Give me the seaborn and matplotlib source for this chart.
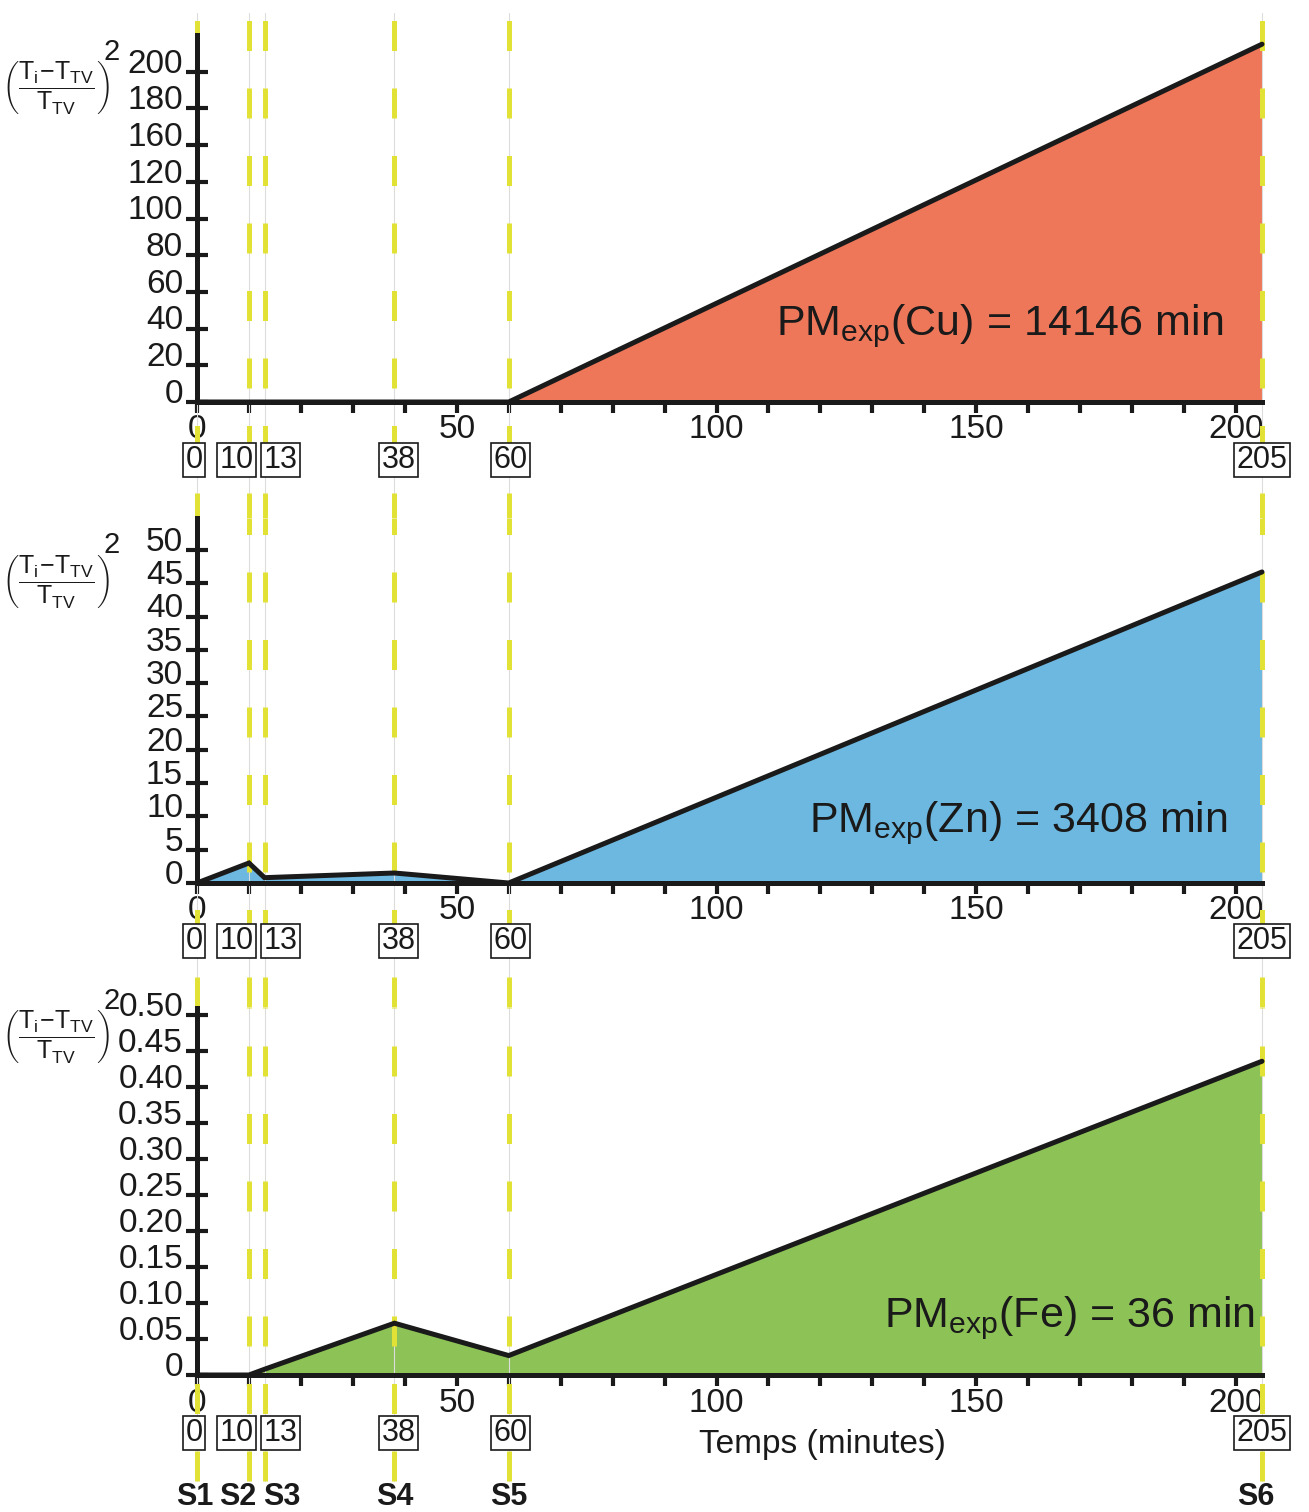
#!/usr/bin/python

import numpy as np
import seaborn as sns
import pandas as pd
import matplotlib
matplotlib.use('Agg')
import matplotlib.pyplot as plt
from matplotlib.ticker import FixedLocator, FixedFormatter, FuncFormatter
from matplotlib.transforms import ScaledTranslation

# Sampling times (minutes) and sample names
sample_times = [0, 10, 13, 38, 60, 205]
sample_names = ['S1', 'S2', 'S3', 'S4', 'S5', 'S6']

# ((Ti - TTV) / TTV)^2
# Cu axis keeps its printed labels (140 is missing) evenly spaced, values are in tick-position units
cu_values = [0, 0, 0, 0, 0, 195]
zn_values = [0, 3.0, 0.8, 1.5, 0, 46.7]
fe_values = [0, 0, 0.008, 0.072, 0.027, 0.436]

cu_ytick_labels = ['0', '20', '40', '60', '80', '100', '120', '160', '180', '200']
zn_ytick_labels = ['0', '5', '10', '15', '20', '25', '30', '35', '40', '45', '50']
fe_ytick_labels = ['0', '0.05', '0.10', '0.15', '0.20', '0.25', '0.30', '0.35', '0.40', '0.45', '0.50']

elements = ['Cu', 'Zn', 'Fe']
pm_minutes = [14146, 3408, 36]

xlabel = 'Temps (minutes)'

FILL_COLORS = ['#ee775a', '#6cb8e0', '#8dc257']
YELLOW = '#e2e236'
INK = '#1a1a1a'
FS = 24


####################################################################################################
# @setup_style
####################################################################################################
def setup_style():

    sns.set_style('white')
    plt.rcParams['font.family'] = ['Liberation Sans', 'DejaVu Sans']
    plt.rcParams['mathtext.fontset'] = 'custom'
    plt.rcParams['mathtext.rm'] = 'Liberation Sans'
    plt.rcParams['mathtext.it'] = 'Liberation Sans'
    plt.rcParams['mathtext.bf'] = 'Liberation Sans:bold'
    plt.rcParams['text.color'] = INK
    plt.rcParams['xtick.color'] = INK
    plt.rcParams['ytick.color'] = INK


####################################################################################################
# @plot_panel
####################################################################################################
def plot_panel(fig, ax, values, color, ytick_labels, ystep, ytop, element, minutes,
               text_xy, ylabel_y, line_span, last=False):

    data = pd.DataFrame({'t': sample_times, 'v': values})

    # Area and outline
    ax.fill_between(data['t'], data['v'], 0, color=color, lw=0, zorder=1)
    sns.lineplot(data=data, x='t', y='v', ax=ax, color=INK, lw=3.6, zorder=4,
                 clip_on=False, solid_joinstyle='miter')

    # Sampling lines (yellow dashes over a thin grey line)
    for t in sample_times:
        ax.axvline(t, ymin=line_span[0], ymax=line_span[1], color='#dcdcdc', lw=0.8,
                   clip_on=False, zorder=2)
        ax.axvline(t, ymin=line_span[0], ymax=line_span[1], color=YELLOW, lw=3.6,
                   ls=(0, (6, 7.5)), clip_on=False, zorder=3)

    ax.set_xlim(0, 205)
    ax.set_ylim(0, ytop)

    # Axes
    for side in ['top', 'right']:
        ax.spines[side].set_visible(False)
    for side in ['left', 'bottom']:
        ax.spines[side].set_linewidth(3.6)
        ax.spines[side].set_color(INK)
        ax.spines[side].set_zorder(5)

    ax.xaxis.set_major_locator(FixedLocator(list(range(0, 201, 10))))
    ax.xaxis.set_major_formatter(FuncFormatter(lambda v, p: '%d' % v if v % 50 == 0 else ''))
    ax.yaxis.set_major_locator(FixedLocator([i * ystep for i in range(len(ytick_labels))]))
    ax.yaxis.set_major_formatter(FixedFormatter(ytick_labels))
    ax.tick_params(axis='x', bottom=True, direction='out', length=8, width=3,
                   labelsize=FS, pad=1)
    ax.tick_params(axis='y', left=True, direction='inout', length=16, width=3,
                   labelsize=FS, pad=2)
    ax.set_xlabel('')
    ax.set_ylabel('')

    # Y tick labels sit a little above their ticks
    shift = ScaledTranslation(0, 8 / 72., fig.dpi_scale_trans)
    for tick in ax.yaxis.get_major_ticks():
        tick.label1.set_transform(tick.label1.get_transform() + shift)

    # Y label: fraction in brackets, squared
    ax.text(-0.133, ylabel_y,
            r'$\left(\dfrac{\mathrm{T_i\!-\!T_{TV}}}{\mathrm{T_{TV}}}\right)$',
            transform=ax.transAxes, ha='center', va='center', fontsize=18)
    ax.annotate('2', xy=(-0.133, ylabel_y), xycoords='axes fraction',
                xytext=(56, 36), textcoords='offset pixels',
                ha='center', va='center', fontsize=21)

    # Experimental mean time
    ax.text(text_xy[0], text_xy[1],
            r'PM$_{\mathrm{exp}}$(%s) = %d min' % (element, minutes),
            transform=ax.transAxes, ha='right', va='baseline', fontsize=31, zorder=6)

    # Boxed sampling times
    box_offsets = [-3, -12, 16, 4, 2, 0]
    for t, off in zip(sample_times, box_offsets):
        ax.annotate(str(t), xy=(t, 0), xycoords=('data', 'axes fraction'),
                    xytext=(off, -58), textcoords='offset pixels',
                    ha='center', va='center', fontsize=22, zorder=6,
                    bbox=dict(boxstyle='square,pad=0.08', fc='white', ec=INK, lw=1.2))

    if last:
        name_offsets = [-2, -11, 17, 0, 0, -6]
        for t, name, off in zip(sample_times, sample_names, name_offsets):
            ax.annotate(name, xy=(t, 0), xycoords=('data', 'axes fraction'),
                        xytext=(off, -122), textcoords='offset pixels',
                        ha='center', va='center', fontsize=22, fontweight='bold')
        ax.annotate(xlabel, xy=(0.587, 0), xycoords='axes fraction',
                    xytext=(0, -70), textcoords='offset pixels',
                    ha='center', va='center', fontsize=FS)


####################################################################################################
# @ Main
####################################################################################################
if __name__ == "__main__":

    setup_style()

    fig = plt.figure(figsize=(13.09, 15.12), dpi=100)

    left = 197 / 1309.
    width = 1065 / 1309.
    ax_cu = fig.add_axes([left, 1 - 402 / 1512., width, 367 / 1512.])
    ax_zn = fig.add_axes([left, 1 - 883 / 1512., width, 365 / 1512.])
    ax_fe = fig.add_axes([left, 1 - 1375 / 1512., width, 367 / 1512.])

    plot_panel(fig, ax_cu, cu_values, FILL_COLORS[0], cu_ytick_labels, 20, 200,
               elements[0], pm_minutes[0], (0.964, 0.183), 0.856, (-0.33, 1.06))
    plot_panel(fig, ax_zn, zn_values, FILL_COLORS[1], zn_ytick_labels, 5, 54.8,
               elements[1], pm_minutes[1], (0.968, 0.14), 0.827, (-0.34, 1.0))
    plot_panel(fig, ax_fe, fe_values, FILL_COLORS[2], fe_ytick_labels, 0.05, 0.51,
               elements[2], pm_minutes[2], (0.993, 0.13), 0.921, (-0.29, 1.0), last=True)

    plt.savefig('out.png', dpi=100)
    plt.close()
